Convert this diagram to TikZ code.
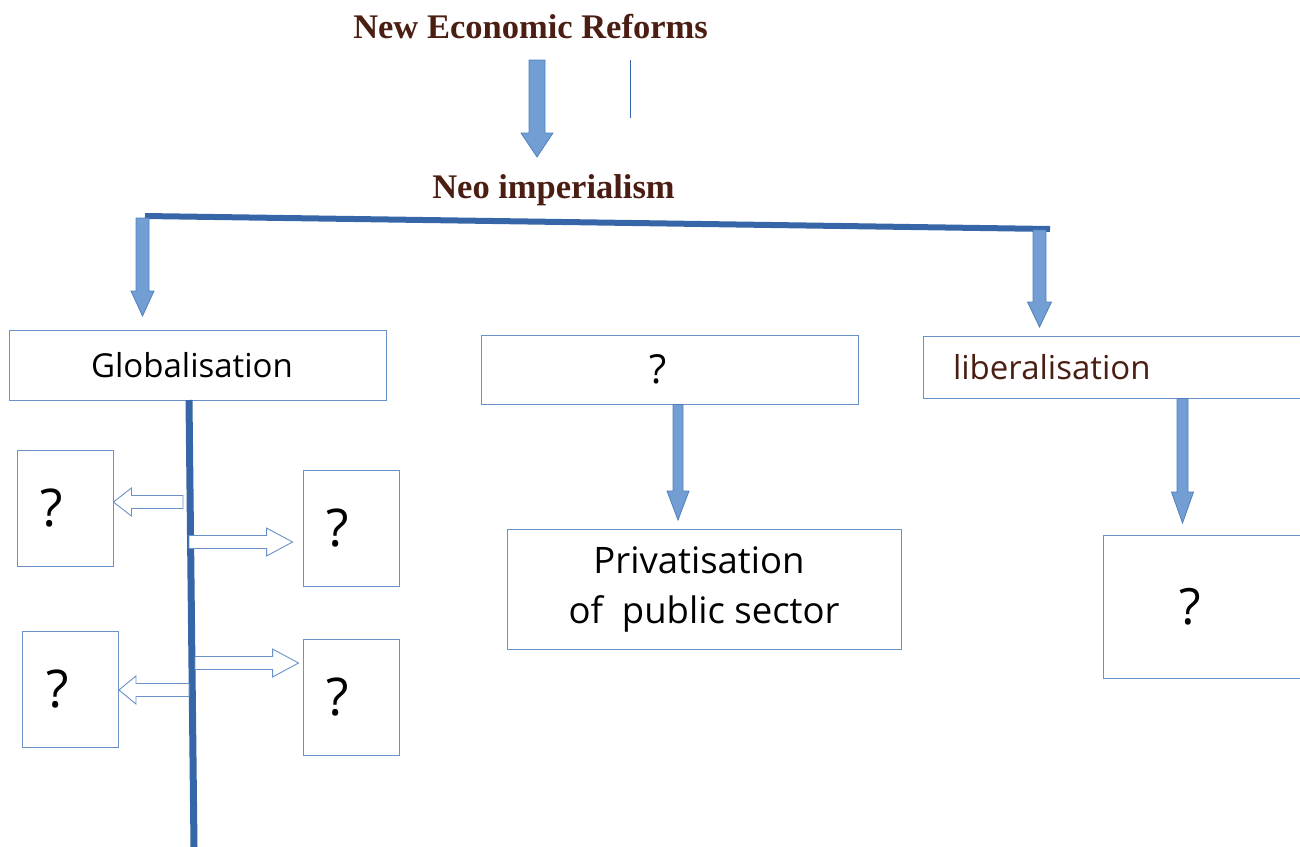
\documentclass[tikz,border=0pt]{standalone}
\usepackage{fontspec}
\setmainfont{Liberation Serif}
\setsansfont{Open Sans}
\usetikzlibrary{calc}
\definecolor{titlebrown}{HTML}{4A1E12}
\definecolor{barblue}{HTML}{3666A8}
\definecolor{arrowblue}{HTML}{729ED4}
\definecolor{edgeblue}{HTML}{4F81BD}
\definecolor{boxblue}{HTML}{6A92C8}

\tikzset{
  shaftw/.store in=\shaftw, shaftw=6.5,
  headw/.store in=\headw, headw=12,
  headl/.store in=\headl, headl=25,
  blockarrow/.style={to path={
    let \p1=(\tikztostart), \p2=(\tikztotarget),
        \n1={atan2(\y2-\y1,\x2-\x1)} in
    ($(\p1)+(\n1+90:\shaftw pt)$)
    -- ($(\p2)+(\n1+180:\headl pt)+(\n1+90:\shaftw pt)$)
    -- ($(\p2)+(\n1+180:\headl pt)+(\n1+90:\headw pt)$)
    -- (\p2)
    -- ($(\p2)+(\n1+180:\headl pt)+(\n1-90:\headw pt)$)
    -- ($(\p2)+(\n1+180:\headl pt)+(\n1-90:\shaftw pt)$)
    -- ($(\p1)+(\n1-90:\shaftw pt)$) -- cycle}},
  fillarrow/.style={draw=edgeblue, fill=arrowblue, line width=0.8pt, line join=miter},
  openarrow/.style={draw=boxblue, fill=white, line width=0.9pt, shaftw=6.5, headw=14},
  bar/.style={draw=barblue, line width=#1},
  title/.style={font=\fontsize{34.5}{40}\selectfont\bfseries, text=titlebrown, inner sep=0pt},
  box/.style={draw=boxblue, line width=0.9pt, fill=white, inner sep=0pt,
    font=\sffamily\fontsize{33}{50}\selectfont},
  qbox/.style={box, minimum width=96pt, minimum height=116pt,
    font=\sffamily\fontsize{52}{60}\selectfont}
}

\begin{document}
\begin{tikzpicture}[x=1pt, y=-1pt]
  \useasboundingbox (0,0) rectangle (1300,846);

  % headings
  \node[title, anchor=base] (ner) at (530.5,38) {New Economic Reforms};
  \node[title, anchor=base] (neo) at (553.5,198) {Neo imperialism};

  % top boxes
  \node[box, minimum width=377pt, minimum height=70pt] (glob) at (197.5,365) {Globalisation\kern11pt};
  \node[box, minimum width=377pt, minimum height=69pt] (mid) at (669.5,369.5)
    {\fontsize{40}{44}\selectfont ?\kern23pt};
  \node[box, minimum width=380pt, minimum height=62pt, text width=320pt,
    align=left, inner xsep=30pt, text=titlebrown] (lib) at (1113,367) {liberalisation};

  % lower boxes
  \node[box, minimum width=394pt, minimum height=120pt, align=center,
    font=\sffamily\fontsize{36.5}{50}\selectfont] (priv) at (704,589)
    {Privatisation\kern10pt\\of\ \ public sector};
  \node[box, minimum width=200pt, minimum height=143pt,
    font=\sffamily\fontsize{50}{60}\selectfont] (libq) at (1203,606.5) {?\enspace};
  \node[qbox] (q1) at (65,508) {?\enspace};
  \node[qbox] (q2) at (70.5,689) {?\enspace};
  \node[qbox] (q3) at (351,528) {?\enspace};
  \node[qbox] (q4) at (351,697) {?\enspace};

  % end points on the bars
  \coordinate (a0s) at (537,60);
  \coordinate (a0e) at (537,157);
  \coordinate (tk1) at (630,60);
  \coordinate (tk2) at (630,118);
  \coordinate (hl) at (145,216);
  \coordinate (hr) at (1050,229);
  \coordinate (vt) at (189,400);
  \coordinate (vb) at (194,847);
  \coordinate (t1) at (183,502);
  \coordinate (t2) at (189,542);
  \coordinate (t3) at (195,663);
  \coordinate (t4) at (189,690);

  % bars
  \draw[draw=barblue, line width=1pt] (tk1) -- (tk2);
  \draw[bar=6pt] (hl) -- (hr);
  \draw[bar=7pt] (vt) -- (vb);

  % filled arrows
  \path[fillarrow, shaftw=8, headw=16, headl=24] (a0s) to[blockarrow] (a0e);
  \path[fillarrow, headw=11.5] (142.5,218) to[blockarrow] (142.5,316);
  \path[fillarrow] (1039.5,230) to[blockarrow] (1039.5,327);
  \path[fillarrow, shaftw=5, headw=11, headl=29] (mid.south -| 678,0) to[blockarrow] (678,520);
  \path[fillarrow, shaftw=5.5, headw=11, headl=31] (lib.south -| 1182.5,0) to[blockarrow] (1182.5,523);

  % open arrows
  \path[openarrow, headl=18] (t1) to[blockarrow] (t1 -| q1.east);
  \path[openarrow, headl=26] (t2) to[blockarrow] ($(t2 -| q3.west)+(-10,0)$);
  \path[openarrow, headl=26] (t3) to[blockarrow] ($(t3 -| q4.west)+(-4,0)$);
  \path[openarrow, headl=17] (t4) to[blockarrow] (t4 -| q2.east);
\end{tikzpicture}
\end{document}
